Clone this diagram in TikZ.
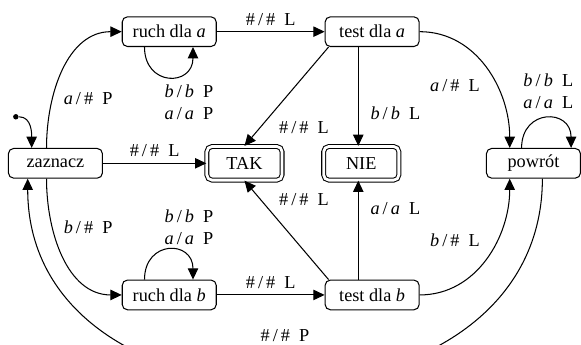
\documentclass[tikz,border=0pt]{standalone}
\usepackage{fontspec}
\setmainfont{Liberation Serif}
\usetikzlibrary{positioning,arrows.meta}

\tikzset{
  state/.style={draw, rounded corners=3pt, minimum width=1.9cm, minimum height=0.6cm, inner sep=1pt},
  accept/.style={draw, double, double distance=1.6pt, rounded corners=3pt, minimum width=1.52cm, minimum height=0.68cm, inner sep=1pt},
  init/.style={circle, fill, inner sep=0pt, minimum size=0.11cm},
}
\newcommand{\przej}[3]{#1\,/\,#2\enspace #3}

\begin{document}
\begin{tikzpicture}[on grid,auto,line width=0.6pt,>={Triangle[length=6.5pt,width=6pt]},
  every node/.style={font=\fontsize{10.5}{13}\selectfont}]
\node[state] (zaz) {zaznacz};
\node[state] (ruchA) [above right=2.66cm and 2.3cm of zaz] {ruch dla \textit{a}};
\node[state] (testA) [right=4.1cm of ruchA] {test dla \textit{a}};
\node[state] (ruchB) [below right=2.66cm and 2.3cm of zaz] {ruch dla \textit{b}};
\node[state] (testB) [right=4.1cm of ruchB] {test dla \textit{b}};
\node[accept] (tak) [right=3.82cm of zaz] {TAK};
\node[accept] (nie) [right=2.36cm of tak] {NIE};
\node[state] (powrot) [right=3.48cm of nie] {powrót};
\node[init] (start) [above left=0.94cm and 0.8cm of zaz] {};
\useasboundingbox (-1.12,-3.66) rectangle (10.5,3.3);
% start and the first moves
\path[->] (start) edge[out=0,in=90] ([xshift=-0.48cm]zaz.north);
\path[->] ([xshift=-0.18cm]zaz.north) edge[out=90,in=180] node[pos=0.3,right=0.1cm] {\przej{\textit{a}}{\#}{P}} (ruchA);
\path[->] ([xshift=-0.18cm]zaz.south) edge[out=-90,in=180] node[pos=0.3,right=0.1cm] {\przej{\textit{b}}{\#}{P}} (ruchB);
\path[->] (zaz) edge node {\przej{\#}{\#}{L}} (tak);
\path[->] (ruchA) edge node {\przej{\#}{\#}{L}} (testA);
\path[->] (ruchB) edge node {\przej{\#}{\#}{L}} (testB);
% loops
\path[->] ([xshift=-0.5cm]ruchA.south) edge[out=-90,in=-90,looseness=2.1]
  node[anchor=north,xshift=0.41cm,yshift=-0.03cm,align=center] {\przej{\textit{b}}{\textit{b}}{P}\\\przej{\textit{a}}{\textit{a}}{P}} ([xshift=0.48cm]ruchA.south);
\path[->] ([xshift=-0.5cm]ruchB.north) edge[out=90,in=90,looseness=2.1]
  node[anchor=south,xshift=0.41cm,yshift=-0.03cm,align=center] {\przej{\textit{b}}{\textit{b}}{P}\\\przej{\textit{a}}{\textit{a}}{P}} ([xshift=0.48cm]ruchB.north);
\path[->] ([xshift=-0.24cm]powrot.north) edge[out=90,in=90,looseness=2.05]
  node[anchor=south,xshift=0.04cm,yshift=0.06cm,align=center] {\przej{\textit{b}}{\textit{b}}{L}\\\przej{\textit{a}}{\textit{a}}{L}} ([xshift=0.76cm]powrot.north);
% tests
\path[->] ([xshift=0.08cm]testA.south west) edge node[pos=0.81,right=0.25cm] {\przej{\#}{\#}{L}} (tak.north);
\path[->] ([xshift=0.08cm]testB.north west) edge node[pos=0.81,right=0.25cm] {\przej{\#}{\#}{L}} (tak.south);
\path[->] ([xshift=-0.28cm]testA.south) edge node[pos=0.67,right=0.12cm] {\przej{\textit{b}}{\textit{b}}{L}} ([xshift=-0.06cm]nie.north);
\path[->] ([xshift=-0.28cm]testB.north) edge node[pos=0.72,right=0.12cm] {\przej{\textit{a}}{\textit{a}}{L}} ([xshift=-0.06cm]nie.south);
\path[->] (testA) edge[out=0,in=90] node[pos=0.5,below left,yshift=-0.1cm] {\przej{\textit{a}}{\#}{L}} ([xshift=-0.48cm]powrot.north);
\path[->] (testB) edge[out=0,in=-90] node[pos=0.5,above left,yshift=0.1cm] {\przej{\textit{b}}{\#}{L}} ([xshift=-0.48cm]powrot.south);
% back to the start
\path[->] ([xshift=0.18cm]powrot.south) edge[out=-90,in=-90,looseness=1.35] node[above=0.68cm] {\przej{\#}{\#}{P}} ([xshift=-0.56cm]zaz.south);
\end{tikzpicture}
\end{document}
